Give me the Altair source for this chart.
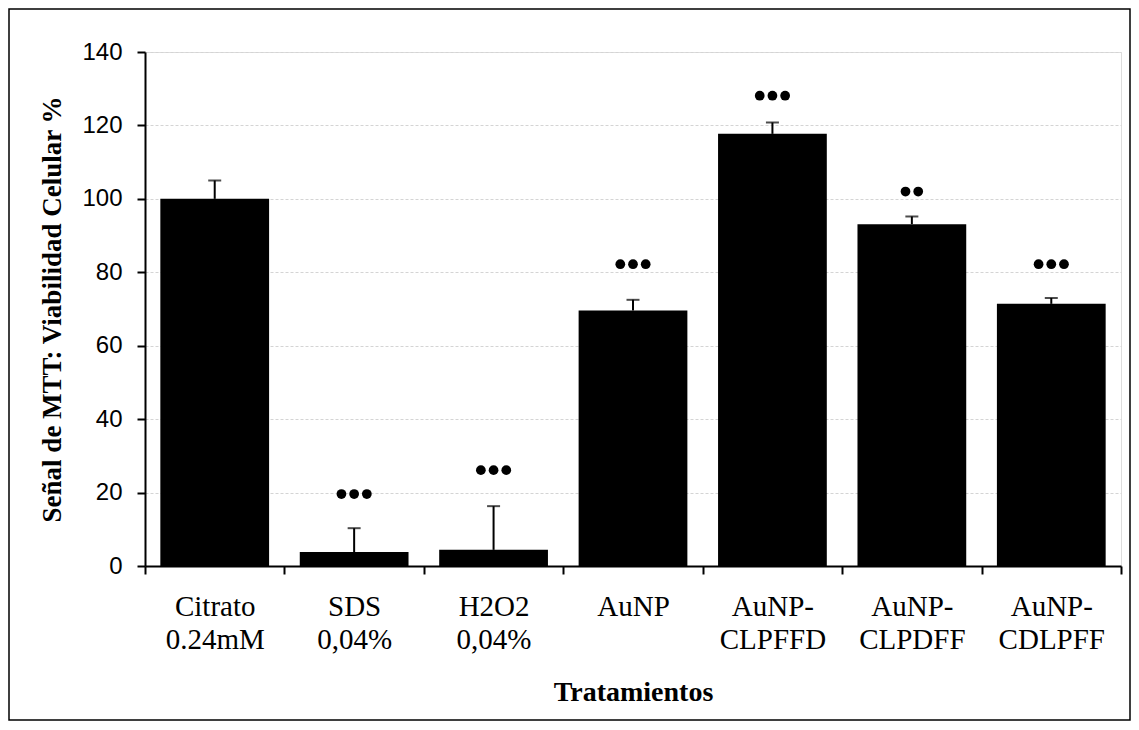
import altair as alt
import pandas as pd

categories = ["Citrato\n0.24mM", "SDS\n0,04%", "H2O2\n0,04%", "AuNP",
              "AuNP-\nCLPFFD", "AuNP-\nCLPDFF", "AuNP-\nCDLPFF"]
means = [100.0, 3.8, 4.4, 69.6, 117.7, 93.1, 71.4]
upper = [105.0, 10.3, 16.3, 72.5, 120.8, 95.2, 73.0]
dot_counts = [0, 3, 3, 3, 3, 2, 3]
dot_levels = [None, 19.6, 26.1, 82.2, 128.1, 102.0, 82.2]
y_ticks = [0, 20, 40, 60, 80, 100, 120, 140]

W, H = 976, 514
band = W / len(categories)

df = pd.DataFrame({"cat": categories, "mean": means, "upper": upper})

rows = []
for c, n, lv in zip(categories, dot_counts, dot_levels):
    for i in range(n):
        rows.append({"cat": c, "lvl": lv, "off": band / 2 + (i - (n - 1) / 2) * 12.7})
dots = pd.DataFrame(rows)

x_enc = alt.X("cat:N", sort=categories, title="Tratamientos",
              scale=alt.Scale(paddingInner=0, paddingOuter=0),
              axis=alt.Axis(labelAngle=0, labelExpr="split(datum.label, '\\n')",
                            labelFont="Liberation Serif", labelFontSize=29,
                            labelLineHeight=33, labelColor="black",
                            labelPadding=18, labelBaseline="top",
                            tickBand="extent", tickSize=8, tickWidth=2, tickColor="black",
                            domainColor="black", domainWidth=2,
                            titleFont="Liberation Serif", titleFontSize=28,
                            titleFontWeight="bold", titleColor="black", titlePadding=24))

y_enc = alt.Y("mean:Q", title="Señal de MTT: Viabilidad Celular %",
              scale=alt.Scale(domain=[0, 140], nice=False),
              axis=alt.Axis(values=y_ticks, labelFont="Liberation Sans", labelFontSize=24,
                            labelColor="black", labelPadding=15,
                            tickSize=8, tickWidth=2, tickColor="black",
                            domainColor="black", domainWidth=2,
                            grid=True, gridColor="#d4d4d4", gridDash=[3, 2], gridWidth=1,
                            titleFont="Liberation Serif", titleFontSize=27,
                            titleFontWeight="bold", titleColor="black", titlePadding=15))

bars = alt.Chart(df).mark_bar(color="black", width=alt.RelativeBandSize(0.78)).encode(
    x=x_enc, y=y_enc)

rule = alt.Chart(df).mark_rule(color="black", strokeWidth=2).encode(
    x=alt.X("cat:N", sort=categories), y="mean:Q", y2="upper:Q")

cap = alt.Chart(df).mark_tick(color="black", thickness=2, size=13, orient="horizontal").encode(
    x=alt.X("cat:N", sort=categories), y="upper:Q")

pts = alt.Chart(dots).mark_point(filled=True, color="black", size=95, opacity=1, shape="circle").encode(
    x=alt.X("cat:N", sort=categories),
    xOffset=alt.XOffset("off:Q", scale=None),
    y="lvl:Q")

frame = alt.Chart(pd.DataFrame({"a": [0]})).mark_rect(
    filled=False, stroke="black", strokeWidth=1.5).encode(
    x=alt.value(-136), x2=alt.value(985), y=alt.value(-43), y2=alt.value(668))

chart = alt.layer(bars, rule, cap, pts, frame).properties(
    width=W, height=H, padding=0
).configure_view(stroke="black", strokeWidth=1.5).configure(background="white")

chart.save("out.html", embed_options={"renderer": "svg", "actions": False})
